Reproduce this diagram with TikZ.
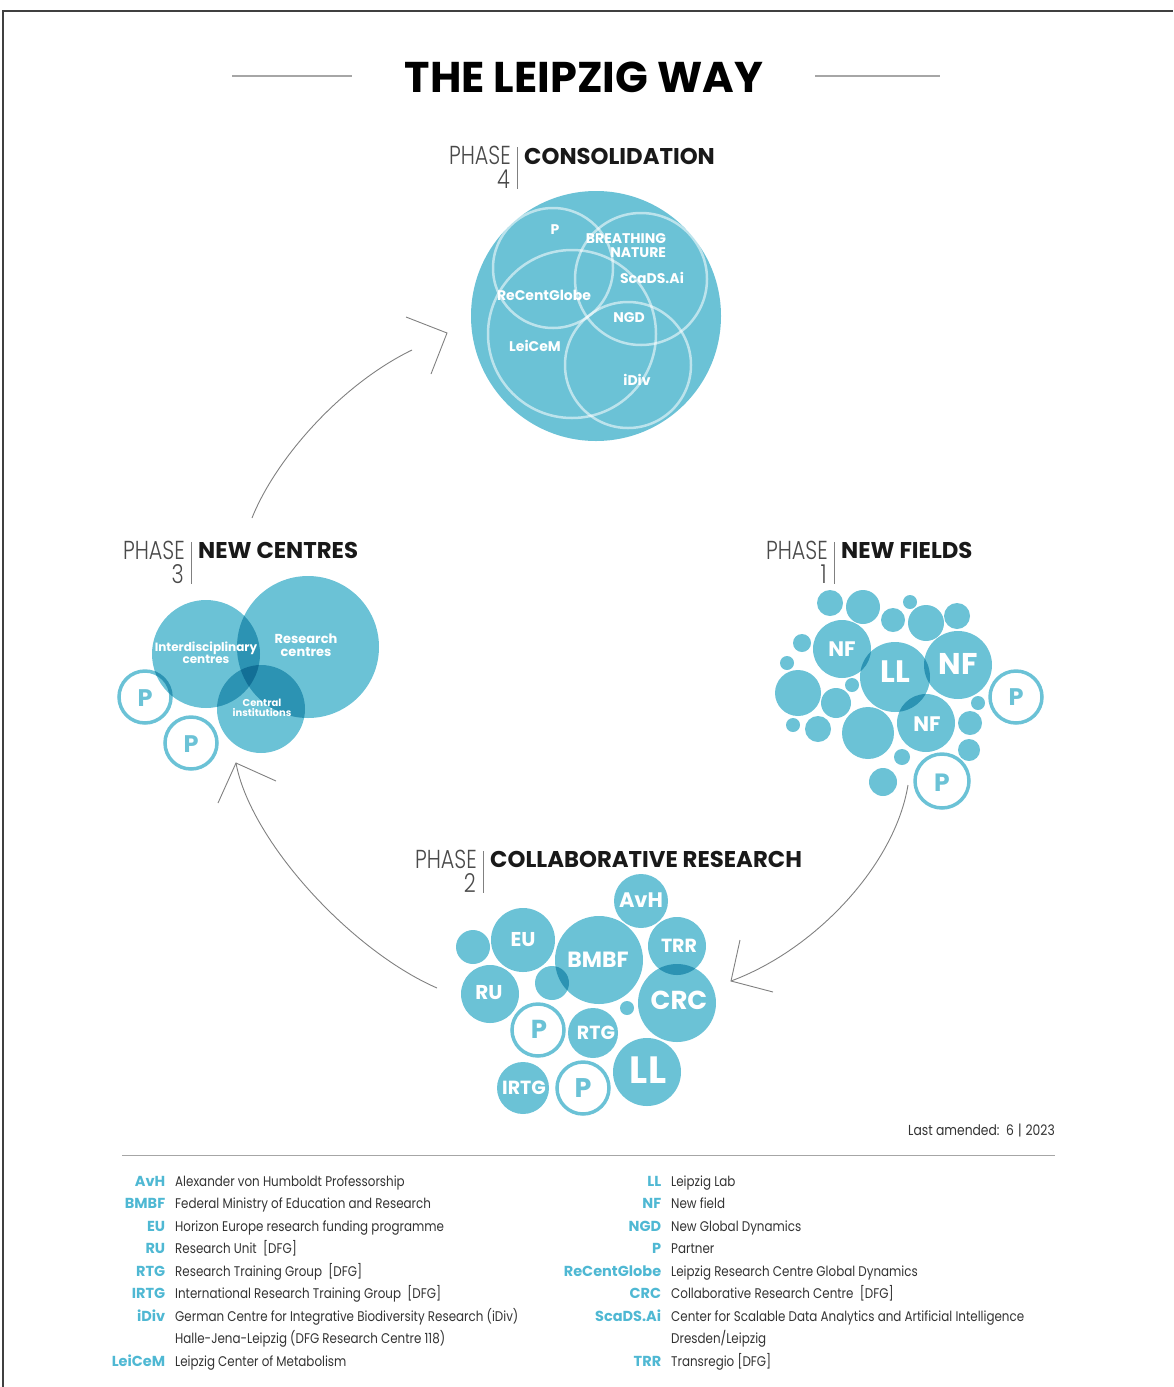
\documentclass[tikz,border=0pt]{standalone}
\usepackage{fontspec}
\usepackage{tikz}
\usetikzlibrary{positioning}
\setmainfont{Poppins}
\newfontfamily\phasefont{Poppins Light}[FakeStretch=0.8]
\newfontfamily\legendfont{Poppins}[FakeStretch=0.85]
\definecolor{leipblue}{HTML}{6BC2D6}
\definecolor{legblue}{HTML}{4FB8D3}
\definecolor{phasegray}{HTML}{4A4A4A}
\definecolor{textgray}{HTML}{333333}
\newcommand{\fsz}[1]{\fontsize{#1}{#1}\selectfont}
\newcommand{\abbr}[1]{\llap{\textcolor{legblue}{\rmfamily\bfseries\fsz{14.5}#1}\hspace{10pt}}}

\begin{document}
\begin{tikzpicture}[x=1pt, y=-1pt,
    bubble/.style={fill=leipblue},
    ring/.style={draw=leipblue, line width=3.5pt},
    veil/.style={draw=white, draw opacity=0.55, line width=2.5pt},
    bubtxt/.style={text=white, inner sep=0pt, font=\bfseries\fsz{#1}},
    bubtxt/.default=20,
    phaseline/.style={draw=phasegray!70, line width=0.8pt},
    phasetxt/.style={text=phasegray, inner sep=0pt, font=\phasefont\fsz{26}},
    headtxt/.style={text=black!90, inner sep=0pt, anchor=base west, font=\bfseries\fsz{22.8}},
    loopline/.style={draw=black!50, line width=0.9pt},
    sepline/.style={draw=black!35, line width=1pt},
    legtxt/.style={text=textgray, inner sep=0pt, anchor=base west, font=\legendfont\fsz{#1}},
    legtxt/.default=14
  ]
    \useasboundingbox (0,0) rectangle (1173,1387);

    % Rahmen
    \draw[black!75, line width=1.5pt] (3,1387) -- (3,11) -- (1173,11);

    % Titel
    \node[inner sep=0pt, font=\bfseries\fsz{43}] (title) at (584,77) {THE LEIPZIG WAY};
    \draw[sepline, line width=1.2pt] (232,76) -- (352,76);
    \draw[sepline, line width=1.2pt] (815,76) -- (940,76);

    % Kreise (multiplizierend, damit Ueberlappungen dunkler werden)
    \begin{scope}[blend mode=multiply]
        % Phase 4
        \fill[bubble] (596,316) circle (125);
        % Phase 3
        \fill[bubble] (206,654) circle (54);
        \fill[bubble] (308,647) circle (71);
        \fill[bubble] (261,709) circle (44);
        \draw[ring] (145,697) circle (26);
        \draw[ring] (191,743) circle (26);
        % Phase 1
        \fill[bubble] (830,603) circle (13);
        \fill[bubble] (863,607) circle (17);
        \fill[bubble] (910,602) circle (7);
        \fill[bubble] (893,620) circle (12);
        \fill[bubble] (926,623) circle (18);
        \fill[bubble] (957,616) circle (13);
        \fill[bubble] (802,643) circle (9);
        \fill[bubble] (787,663) circle (7);
        \fill[bubble] (798,693) circle (23);
        \fill[bubble] (852,685) circle (7);
        \fill[bubble] (836,703) circle (15);
        \fill[bubble] (793,725) circle (7);
        \fill[bubble] (818,729) circle (13);
        \fill[bubble] (868,733) circle (26);
        \fill[bubble] (978,703) circle (7);
        \fill[bubble] (970,723) circle (12);
        \fill[bubble] (969,750) circle (11);
        \fill[bubble] (902,757) circle (8);
        \fill[bubble] (883,782) circle (14);
        \fill[bubble] (842,649) circle (29);
        \fill[bubble] (895,677) circle (35);
        \fill[bubble] (958,665) circle (34);
        \fill[bubble] (926,723) circle (29);
        \draw[ring] (1016,697) circle (26);
        \draw[ring] (942,781) circle (27);
        % Phase 2
        \fill[bubble] (473,947) circle (17);
        \fill[bubble] (552,983) circle (17);
        \fill[bubble] (627,1008) circle (7);
        \fill[bubble] (641,901) circle (27);
        \fill[bubble] (523,940) circle (32);
        \fill[bubble] (599,960) circle (44);
        \fill[bubble] (677,946) circle (29);
        \fill[bubble] (490,994) circle (29);
        \fill[bubble] (677,1003) circle (39);
        \fill[bubble] (593,1033) circle (25);
        \fill[bubble] (647,1072) circle (34);
        \fill[bubble] (523,1088) circle (26);
        \draw[ring] (538,1030) circle (26);
        \draw[ring] (583,1088) circle (26);
    \end{scope}

    % Phase 4 - innere Kreise
    \draw[veil] (553,268) circle (60);
    \draw[veil] (641,279) circle (66);
    \draw[veil] (572,334) circle (84);
    \draw[veil] (628,365) circle (63);

    % Ueberschriften der Phasen
    \draw[phaseline] (517,147) -- (517,189);
    \node[phasetxt, anchor=base east] (ph4) at (511,164) {PHASE};
    \node[phasetxt, anchor=base east] (n4) at (510,188) {4};
    \node[headtxt] (h4) at (524,164) {CONSOLIDATION};

    \draw[phaseline] (191,542) -- (191,584);
    \node[phasetxt, anchor=base east] (ph3) at (185,559) {PHASE};
    \node[phasetxt, anchor=base east] (n3) at (184,583) {3};
    \node[headtxt] (h3) at (198,558) {NEW CENTRES};

    \draw[phaseline] (834,542) -- (834,584);
    \node[phasetxt, anchor=base east] (ph1) at (828,559) {PHASE};
    \node[phasetxt, anchor=base east] (n1) at (827,583) {1};
    \node[headtxt] (h1) at (841,558) {NEW FIELDS};

    \draw[phaseline] (483,851) -- (483,893);
    \node[phasetxt, anchor=base east] (ph2) at (477,868) {PHASE};
    \node[phasetxt, anchor=base east] (n2) at (476,892) {2};
    \node[headtxt] (h2) at (490,867) {COLLABORATIVE RESEARCH};

    % Beschriftungen Phase 4
    \node[bubtxt=14] (p4) at (555,230) {P};
    \node[bubtxt=14, align=right] (breath) at (626,246) {BREATHING\\NATURE};
    \node[bubtxt=14] (scads) at (652,278) {ScaDS.Ai};
    \node[bubtxt=14] (recent) at (544,295) {ReCentGlobe};
    \node[bubtxt=14] (ngd) at (629,318) {NGD};
    \node[bubtxt=14] (leicem) at (535,346) {LeiCeM};
    \node[bubtxt=14] (idiv) at (637,380) {iDiv};

    % Beschriftungen Phase 3
    \node[bubtxt=12, align=center] (inter) at (206,653) {Interdisciplinary\\centres};
    \node[bubtxt=13, align=center] (rescen) at (306,645) {Research\\centres};
    \node[bubtxt=10, align=center] (central) at (262,708) {Central\\institutions};
    \node[bubtxt=24, text=leipblue] (p3a) at (145,698) {P};
    \node[bubtxt=24, text=leipblue] (p3b) at (191,744) {P};

    % Beschriftungen Phase 1
    \node[bubtxt=21] (nf1) at (842,649) {NF};
    \node[bubtxt=31] (ll1) at (895,672) {LL};
    \node[bubtxt=30] (nf2) at (958,664) {NF};
    \node[bubtxt=21] (nf3) at (927,724) {NF};
    \node[bubtxt=24, text=leipblue] (p1a) at (1016,697) {P};
    \node[bubtxt=25, text=leipblue] (p1b) at (942,783) {P};

    % Beschriftungen Phase 2
    \node[bubtxt=21] (avh) at (641,900) {AvH};
    \node[bubtxt=20] (eu) at (523,940) {EU};
    \node[bubtxt=22] (bmbf) at (598,960) {BMBF};
    \node[bubtxt=19] (trr) at (679,946) {TRR};
    \node[bubtxt=20] (ru) at (489,993) {RU};
    \node[bubtxt=26] (crc) at (679,1000) {CRC};
    \node[bubtxt=19] (rtg) at (596,1033) {RTG};
    \node[bubtxt=38] (ll2) at (648,1070) {LL};
    \node[bubtxt=19] (irtg) at (524,1088) {IRTG};
    \node[bubtxt=26, text=leipblue] (p2a) at (539,1029) {P};
    \node[bubtxt=27, text=leipblue] (p2b) at (583,1088) {P};

    % Pfeile zwischen den Phasen
    \coordinate (c1out) at (908,785);
    \coordinate (c2in) at (731,981);
    \draw[loopline] (c1out) .. controls (895,865) and (815,950) .. (c2in);
    \draw[loopline] (740,940) -- (c2in) -- (773,992);

    \coordinate (c2out) at (437,988);
    \coordinate (c3in) at (236,763);
    \draw[loopline] (c2out) .. controls (350,950) and (250,840) .. (c3in);
    \draw[loopline] (218,803) -- (c3in) -- (276,781);

    \coordinate (c3out) at (252,518);
    \coordinate (c4in) at (412,350);
    \coordinate (c4tip) at (447,333);
    \draw[loopline] (c3out) .. controls (275,460) and (340,385) .. (c4in);
    \draw[loopline] (406,317) -- (c4tip) -- (431,374);

    % Legende
    \node[legtxt=14.5, anchor=base east] (amend) at (1055,1135) {Last amended:~~6\;|\;2023};
    \draw[sepline] (122,1155) -- (1055,1155);

    \node[legtxt] (l1) at (175,1186) {\abbr{AvH}Alexander von Humboldt Professorship};
    \node[legtxt] (l2) at (175,1208.5) {\abbr{BMBF}Federal Ministry of Education and Research};
    \node[legtxt] (l3) at (175,1231) {\abbr{EU}Horizon Europe research funding programme};
    \node[legtxt] (l4) at (175,1253.5) {\abbr{RU}Research Unit~~[DFG]};
    \node[legtxt] (l5) at (175,1276) {\abbr{RTG}Research Training Group~~[DFG]};
    \node[legtxt] (l6) at (175,1298.5) {\abbr{IRTG}International Research Training Group~~[DFG]};
    \node[legtxt] (l7) at (175,1321) {\abbr{iDiv}German Centre for Integrative Biodiversity Research (iDiv)};
    \node[legtxt] (l8) at (175,1343.5) {Halle-Jena-Leipzig (DFG Research Centre 118)};
    \node[legtxt] (l9) at (175,1366) {\abbr{LeiCeM}Leipzig Center of Metabolism};

    \node[legtxt] (r1) at (671,1186) {\abbr{LL}Leipzig Lab};
    \node[legtxt] (r2) at (671,1208.5) {\abbr{NF}New field};
    \node[legtxt] (r3) at (671,1231) {\abbr{NGD}New Global Dynamics};
    \node[legtxt] (r4) at (671,1253.5) {\abbr{P}Partner};
    \node[legtxt] (r5) at (671,1276) {\abbr{ReCentGlobe}Leipzig Research Centre Global Dynamics};
    \node[legtxt] (r6) at (671,1298.5) {\abbr{CRC}Collaborative Research Centre~~[DFG]};
    \node[legtxt] (r7) at (671,1321) {\abbr{ScaDS.Ai}Center for Scalable Data Analytics and Artificial Intelligence};
    \node[legtxt] (r8) at (671,1343.5) {Dresden/Leipzig};
    \node[legtxt] (r9) at (671,1366) {\abbr{TRR}Transregio [DFG]};
\end{tikzpicture}
\end{document}
